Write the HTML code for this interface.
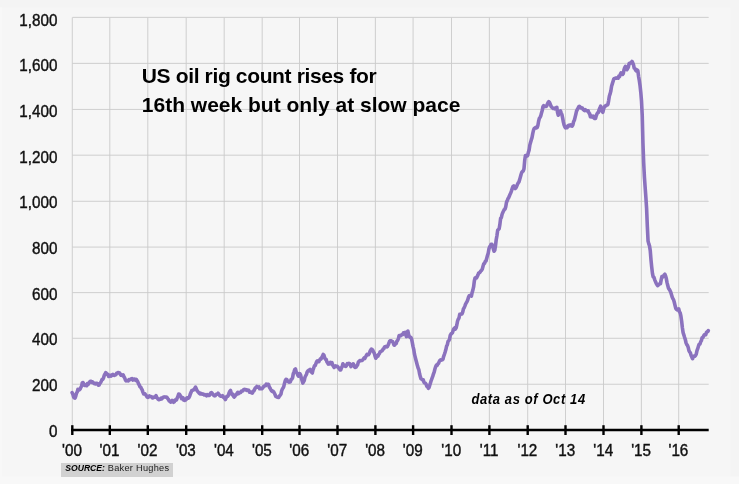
<!DOCTYPE html>
<html lang="en">
<head>
<meta charset="utf-8">
<title>US oil rig count</title>
<style>
html,body{margin:0;padding:0;}
body{width:739px;height:484px;overflow:hidden;background:#f5f5f5;font-family:"Liberation Sans",sans-serif;position:relative;}
svg{position:absolute;left:0;top:0;display:block;}
.grid line{stroke:#cbcbcb;stroke-width:0.9;}
.ticks line{stroke:#000;stroke-width:2.4;}
.ylab text{font-size:15.8px;text-anchor:end;fill:#111;stroke:#111;stroke-width:0.4px;}
.xlab text{font-size:15.8px;text-anchor:middle;fill:#111;stroke:#111;stroke-width:0.4px;}
.title{position:absolute;left:141.8px;top:60.5px;font-weight:bold;font-size:21px;line-height:29px;letter-spacing:0px;word-spacing:0px;color:#000;white-space:nowrap;transform-origin:0 0;}
.note{position:absolute;left:471.5px;top:391.7px;font-weight:bold;font-style:italic;font-size:13px;line-height:16px;letter-spacing:0.6px;color:#000;white-space:nowrap;transform:scaleY(1.12);transform-origin:0 12.3px;}
.src{position:absolute;left:61.2px;top:463.2px;width:111.8px;height:13.5px;background:#d1d1d1;font-size:9.2px;line-height:11px;letter-spacing:0.28px;color:#1c1c1c;white-space:nowrap;}
.src span{display:block;padding-left:4.1px;padding-top:0px;}
.src b{font-style:italic;color:#000;font-size:8.6px;letter-spacing:0;}
</style>
</head>
<body>
<svg width="739" height="484" viewBox="0 0 739 484" font-family="Liberation Sans, sans-serif">
<rect x="0" y="0" width="739" height="484" fill="#f4f4f4"/>
<rect x="0" y="7.4" width="730.5" height="476.6" fill="#f6f6f6"/>
<rect x="0" y="476.5" width="739" height="7.5" fill="#f8f8f8"/>
<rect x="0" y="7.4" width="2" height="476.6" fill="#f8f8f8"/>
<g class="grid">
<line x1="72.3" y1="17.5" x2="72.3" y2="430.3"/>
<line x1="109.8" y1="17.5" x2="109.8" y2="430.3"/>
<line x1="147.8" y1="17.5" x2="147.8" y2="430.3"/>
<line x1="186.2" y1="17.5" x2="186.2" y2="430.3"/>
<line x1="224.2" y1="17.5" x2="224.2" y2="430.3"/>
<line x1="262.2" y1="17.5" x2="262.2" y2="430.3"/>
<line x1="299.5" y1="17.5" x2="299.5" y2="430.3"/>
<line x1="337.5" y1="17.5" x2="337.5" y2="430.3"/>
<line x1="375.4" y1="17.5" x2="375.4" y2="430.3"/>
<line x1="413.1" y1="17.5" x2="413.1" y2="430.3"/>
<line x1="451.5" y1="17.5" x2="451.5" y2="430.3"/>
<line x1="489.4" y1="17.5" x2="489.4" y2="430.3"/>
<line x1="527.7" y1="17.5" x2="527.7" y2="430.3"/>
<line x1="565.5" y1="17.5" x2="565.5" y2="430.3"/>
<line x1="603.5" y1="17.5" x2="603.5" y2="430.3"/>
<line x1="641.4" y1="17.5" x2="641.4" y2="430.3"/>
<line x1="678.7" y1="17.5" x2="678.7" y2="430.3"/>
<line x1="72.4" y1="384.25" x2="708.7" y2="384.25"/>
<line x1="72.4" y1="338.30" x2="708.7" y2="338.30"/>
<line x1="72.4" y1="292.60" x2="708.7" y2="292.60"/>
<line x1="72.4" y1="247.10" x2="708.7" y2="247.10"/>
<line x1="72.4" y1="201.30" x2="708.7" y2="201.30"/>
<line x1="72.4" y1="155.20" x2="708.7" y2="155.20"/>
<line x1="72.4" y1="109.45" x2="708.7" y2="109.45"/>
<line x1="72.4" y1="63.40" x2="708.7" y2="63.40"/>
<line x1="72.4" y1="17.40" x2="708.7" y2="17.40"/>
</g>
<path d="M72.10 392.69 L72.83 394.04 L73.56 396.86 L74.29 397.85 L75.02 398.16 L75.75 396.05 L76.48 393.28 L77.21 391.97 L77.94 389.31 L78.67 390.17 L79.40 389.88 L80.13 389.10 L80.86 387.35 L81.59 386.15 L82.32 382.66 L83.05 382.54 L83.78 383.80 L84.51 385.35 L85.24 385.43 L85.97 384.99 L86.70 385.68 L87.43 383.63 L88.16 384.37 L88.89 383.17 L89.62 382.09 L90.35 381.32 L91.08 381.20 L91.81 382.42 L92.54 381.89 L93.27 382.77 L94.00 383.50 L94.73 383.40 L95.46 383.96 L96.19 383.29 L96.92 383.18 L97.65 383.66 L98.38 385.16 L99.11 384.98 L99.84 383.40 L100.57 382.61 L101.30 381.24 L102.03 379.57 L102.76 379.24 L103.49 378.01 L104.22 375.47 L104.95 374.22 L105.68 372.67 L106.41 373.35 L107.14 374.38 L107.87 374.37 L108.60 376.50 L109.33 375.30 L110.06 375.33 L110.79 376.13 L111.52 375.09 L112.25 375.40 L112.98 374.51 L113.71 375.24 L114.44 375.37 L115.17 374.69 L115.90 374.77 L116.63 373.21 L117.36 373.08 L118.09 372.49 L118.82 372.65 L119.55 372.87 L120.28 374.13 L121.01 375.23 L121.74 374.93 L122.47 375.52 L123.20 374.88 L123.93 376.72 L124.66 377.96 L125.39 379.85 L126.12 380.85 L126.85 380.60 L127.58 380.43 L128.31 380.86 L129.04 379.53 L129.77 379.90 L130.50 379.35 L131.23 378.95 L131.96 378.60 L132.69 380.03 L133.42 379.16 L134.15 379.01 L134.88 379.23 L135.61 380.39 L136.34 379.38 L137.07 380.59 L137.80 381.88 L138.53 383.74 L139.26 384.94 L139.99 386.71 L140.72 387.16 L141.45 388.60 L142.18 389.85 L142.91 392.10 L143.64 393.92 L144.37 393.52 L145.10 394.03 L145.83 395.02 L146.56 396.10 L147.29 397.13 L148.02 397.52 L148.75 396.88 L149.48 395.94 L150.21 396.41 L150.94 396.46 L151.67 396.87 L152.40 397.89 L153.13 397.69 L153.86 397.14 L154.59 397.07 L155.32 397.11 L156.05 395.69 L156.78 397.53 L157.51 398.37 L158.24 399.25 L158.97 399.76 L159.70 399.33 L160.43 399.14 L161.16 398.11 L161.89 398.78 L162.62 397.67 L163.35 397.10 L164.08 397.08 L164.81 396.87 L165.54 397.09 L166.27 396.98 L167.00 397.53 L167.73 398.61 L168.46 399.48 L169.19 400.96 L169.92 401.34 L170.65 402.20 L171.38 401.30 L172.11 400.39 L172.84 401.15 L173.57 402.25 L174.30 401.79 L175.03 400.03 L175.76 400.21 L176.49 399.93 L177.22 397.91 L177.95 396.34 L178.68 394.04 L179.41 394.18 L180.14 395.47 L180.87 396.39 L181.60 398.62 L182.33 398.13 L183.06 397.85 L183.79 400.12 L184.52 400.42 L185.25 399.94 L185.98 399.93 L186.71 398.04 L187.44 397.83 L188.17 398.27 L188.90 397.69 L189.63 396.28 L190.36 393.89 L191.09 392.35 L191.82 390.50 L192.55 390.48 L193.28 389.82 L194.01 389.75 L194.74 388.35 L195.47 387.13 L196.20 388.63 L196.93 390.40 L197.66 391.39 L198.39 392.21 L199.12 393.10 L199.85 393.79 L200.58 393.16 L201.31 393.89 L202.04 394.18 L202.77 393.91 L203.50 394.13 L204.23 394.81 L204.96 394.50 L205.69 395.12 L206.42 395.76 L207.15 394.63 L207.88 395.22 L208.61 395.52 L209.34 395.49 L210.07 394.02 L210.80 392.92 L211.53 392.59 L212.26 393.50 L212.99 394.57 L213.72 395.26 L214.45 395.83 L215.18 395.68 L215.91 394.52 L216.64 394.13 L217.37 394.23 L218.10 393.15 L218.83 394.21 L219.56 395.47 L220.29 395.96 L221.02 396.32 L221.75 396.13 L222.48 395.64 L223.21 397.09 L223.94 396.96 L224.67 398.25 L225.40 399.49 L226.13 397.72 L226.86 396.31 L227.59 396.39 L228.32 395.37 L229.05 393.09 L229.78 391.43 L230.51 390.49 L231.24 393.06 L231.97 394.52 L232.70 394.17 L233.43 396.11 L234.16 397.02 L234.89 396.25 L235.62 394.99 L236.35 394.67 L237.08 393.35 L237.81 392.28 L238.54 393.59 L239.27 393.09 L240.00 392.24 L240.73 392.47 L241.46 391.08 L242.19 391.13 L242.92 390.84 L243.65 389.70 L244.38 389.39 L245.11 389.44 L245.84 389.45 L246.57 390.36 L247.30 390.12 L248.03 390.53 L248.76 390.30 L249.49 392.19 L250.22 391.95 L250.95 392.28 L251.68 392.92 L252.41 393.11 L253.14 391.27 L253.87 390.97 L254.60 389.27 L255.33 387.96 L256.06 387.44 L256.79 386.53 L257.52 387.26 L258.25 387.16 L258.98 386.87 L259.71 388.74 L260.44 388.30 L261.17 388.73 L261.90 388.79 L262.63 388.05 L263.36 386.81 L264.09 386.31 L264.82 385.80 L265.55 385.72 L266.28 384.05 L267.01 384.64 L267.74 384.25 L268.47 384.33 L269.20 386.74 L269.93 387.95 L270.66 389.36 L271.39 390.54 L272.12 391.49 L272.85 391.05 L273.58 391.74 L274.31 393.05 L275.04 394.50 L275.77 396.42 L276.50 396.69 L277.23 397.15 L277.96 397.48 L278.69 397.39 L279.42 396.08 L280.15 395.25 L280.88 394.28 L281.61 390.93 L282.34 389.04 L283.07 388.02 L283.80 386.40 L284.53 383.14 L285.26 380.69 L285.99 379.38 L286.72 379.47 L287.45 380.75 L288.18 381.60 L288.91 382.23 L289.64 382.09 L290.37 381.77 L291.10 379.40 L291.83 379.11 L292.56 377.86 L293.29 373.68 L294.02 371.82 L294.75 369.48 L295.48 368.97 L296.21 371.93 L296.94 373.03 L297.67 374.77 L298.40 376.09 L299.13 375.68 L299.86 373.65 L300.59 374.91 L301.32 378.00 L302.05 380.60 L302.78 383.04 L303.51 381.78 L304.24 380.57 L304.97 377.22 L305.70 375.76 L306.43 374.41 L307.16 372.07 L307.89 370.97 L308.62 370.39 L309.35 369.95 L310.08 369.34 L310.81 371.39 L311.54 372.07 L312.27 373.00 L313.00 369.86 L313.73 367.97 L314.46 365.79 L315.19 365.70 L315.92 363.67 L316.65 361.63 L317.38 360.82 L318.11 361.70 L318.84 361.63 L319.57 360.07 L320.30 358.87 L321.03 359.12 L321.76 357.50 L322.49 356.27 L323.22 354.39 L323.95 355.19 L324.68 357.80 L325.41 359.18 L326.14 359.30 L326.87 361.82 L327.60 362.75 L328.33 364.05 L329.06 363.08 L329.79 363.95 L330.52 362.39 L331.25 363.39 L331.98 362.76 L332.71 365.03 L333.44 366.28 L334.17 367.41 L334.90 366.48 L335.63 365.82 L336.36 366.52 L337.09 366.24 L337.82 366.85 L338.55 367.86 L339.28 368.67 L340.01 369.99 L340.74 369.87 L341.47 367.73 L342.20 366.56 L342.93 363.84 L343.66 364.99 L344.39 365.28 L345.12 366.31 L345.85 366.38 L346.58 365.37 L347.31 363.70 L348.04 363.93 L348.77 363.41 L349.50 363.47 L350.23 364.59 L350.96 366.58 L351.69 364.72 L352.42 364.94 L353.15 363.85 L353.88 364.98 L354.61 366.92 L355.34 367.42 L356.07 367.13 L356.80 365.89 L357.53 365.11 L358.26 362.39 L358.99 361.39 L359.72 360.62 L360.45 360.81 L361.18 360.56 L361.91 360.51 L362.64 360.01 L363.37 358.99 L364.10 357.85 L364.83 358.38 L365.56 357.01 L366.29 355.65 L367.02 354.29 L367.75 354.89 L368.48 354.68 L369.21 353.59 L369.94 351.66 L370.67 350.16 L371.40 349.07 L372.13 349.49 L372.86 350.33 L373.59 352.14 L374.32 353.29 L375.05 356.18 L375.78 358.27 L376.51 357.27 L377.24 355.60 L377.97 356.14 L378.70 354.50 L379.43 353.49 L380.16 351.82 L380.89 351.45 L381.62 351.04 L382.35 350.47 L383.08 349.08 L383.81 348.70 L384.54 346.92 L385.27 346.61 L386.00 346.36 L386.73 347.00 L387.46 346.51 L388.19 345.03 L388.92 343.25 L389.65 341.03 L390.38 340.71 L391.11 340.84 L391.84 341.35 L392.57 341.45 L393.30 343.15 L394.03 345.12 L394.76 345.14 L395.49 343.43 L396.22 343.55 L396.95 341.05 L397.68 340.35 L398.41 338.66 L399.14 335.52 L399.87 335.45 L400.60 335.72 L401.33 335.02 L402.06 334.72 L402.79 334.55 L403.52 332.75 L404.25 332.69 L404.98 332.46 L405.71 334.45 L406.44 336.59 L407.17 332.16 L407.90 331.02 L408.63 334.58 L409.36 336.42 L410.09 337.42 L410.82 337.41 L411.55 338.82 L412.28 342.36 L413.01 346.42 L413.74 349.35 L414.47 354.17 L415.20 357.17 L415.93 360.00 L416.66 362.74 L417.39 365.58 L418.12 368.10 L418.85 369.70 L419.58 373.74 L420.31 376.68 L421.04 378.80 L421.77 379.25 L422.50 379.87 L423.23 379.80 L423.96 382.27 L424.69 383.09 L425.42 383.30 L426.15 384.33 L426.88 386.37 L427.61 386.58 L428.34 388.26 L429.07 387.45 L429.80 385.02 L430.53 382.67 L431.26 380.27 L431.99 378.35 L432.72 376.38 L433.45 373.96 L434.18 372.14 L434.91 369.03 L435.64 366.80 L436.37 365.14 L437.10 365.32 L437.83 363.87 L438.56 363.29 L439.29 361.36 L440.02 360.23 L440.75 359.79 L441.48 360.10 L442.21 359.88 L442.94 359.25 L443.67 356.30 L444.40 354.30 L445.13 352.09 L445.86 349.60 L446.59 346.13 L447.32 344.90 L448.05 341.41 L448.78 340.77 L449.51 339.27 L450.24 335.39 L450.97 334.05 L451.70 333.50 L452.43 332.79 L453.16 330.47 L453.89 328.70 L454.62 327.97 L455.35 329.20 L456.08 327.94 L456.81 325.01 L457.54 321.10 L458.27 319.21 L459.00 318.03 L459.73 314.29 L460.46 314.57 L461.19 313.78 L461.92 314.01 L462.65 312.37 L463.38 309.06 L464.11 307.89 L464.84 306.10 L465.57 304.09 L466.30 302.74 L467.03 301.61 L467.76 299.74 L468.49 297.36 L469.22 295.75 L469.95 295.60 L470.68 295.25 L471.41 296.08 L472.14 292.48 L472.87 290.16 L473.60 286.96 L474.33 281.02 L475.06 278.03 L475.79 277.77 L476.52 277.90 L477.25 276.36 L477.98 274.89 L478.71 272.93 L479.44 272.71 L480.17 271.95 L480.90 270.86 L481.63 270.29 L482.36 268.84 L483.09 265.97 L483.82 263.62 L484.55 263.38 L485.28 261.33 L486.01 261.09 L486.74 258.13 L487.47 255.60 L488.20 253.21 L488.93 248.93 L489.66 246.75 L490.39 245.98 L491.12 244.26 L491.85 244.23 L492.58 246.05 L493.31 248.73 L494.04 251.22 L494.77 250.17 L495.50 245.70 L496.23 239.57 L496.96 235.48 L497.69 230.25 L498.42 229.46 L499.15 228.74 L499.88 224.36 L500.61 218.43 L501.34 217.74 L502.07 214.33 L502.80 212.47 L503.53 211.00 L504.26 209.52 L504.99 209.15 L505.72 206.92 L506.45 202.49 L507.18 200.84 L507.91 198.80 L508.64 197.71 L509.37 196.08 L510.10 194.20 L510.83 192.76 L511.56 190.60 L512.29 188.26 L513.02 186.51 L513.75 186.01 L514.48 187.49 L515.21 188.49 L515.94 187.82 L516.67 186.20 L517.40 184.59 L518.13 182.97 L518.86 182.15 L519.59 179.89 L520.32 177.20 L521.05 174.48 L521.78 172.34 L522.51 171.45 L523.24 170.93 L523.97 168.85 L524.70 160.62 L525.43 155.46 L526.16 155.67 L526.89 155.95 L527.62 155.71 L528.35 152.42 L529.08 150.14 L529.81 145.15 L530.54 142.48 L531.27 139.91 L532.00 137.63 L532.73 133.61 L533.46 130.38 L534.19 128.45 L534.92 127.96 L535.65 127.45 L536.38 127.98 L537.11 127.56 L537.84 125.57 L538.57 121.52 L539.30 118.51 L540.03 117.33 L540.76 115.92 L541.49 113.01 L542.22 110.60 L542.95 106.54 L543.68 105.63 L544.41 106.58 L545.14 106.55 L545.87 106.38 L546.60 106.23 L547.33 104.13 L548.06 102.53 L548.79 101.58 L549.52 102.41 L550.25 104.18 L550.98 106.18 L551.71 107.17 L552.44 107.71 L553.17 108.42 L553.90 108.32 L554.63 108.78 L555.36 107.95 L556.09 107.77 L556.82 107.29 L557.55 112.53 L558.28 115.18 L559.01 113.22 L559.74 111.30 L560.47 110.91 L561.20 112.84 L561.93 114.59 L562.66 118.12 L563.39 122.16 L564.12 125.16 L564.85 126.89 L565.58 127.90 L566.31 127.83 L567.04 127.75 L567.77 125.95 L568.50 125.41 L569.23 125.14 L569.96 125.76 L570.69 124.91 L571.42 125.75 L572.15 126.18 L572.88 124.90 L573.61 121.64 L574.34 120.23 L575.07 117.41 L575.80 114.36 L576.53 111.16 L577.26 109.66 L577.99 108.25 L578.72 106.79 L579.45 106.29 L580.18 107.01 L580.91 107.94 L581.64 107.86 L582.37 107.99 L583.10 109.36 L583.83 110.01 L584.56 110.58 L585.29 109.62 L586.02 110.47 L586.75 110.68 L587.48 111.02 L588.21 110.89 L588.94 112.98 L589.67 113.79 L590.40 116.79 L591.13 116.90 L591.86 116.19 L592.59 116.98 L593.32 116.16 L594.05 118.23 L594.78 118.57 L595.51 118.42 L596.24 115.86 L596.97 113.92 L597.70 112.74 L598.43 112.32 L599.16 109.51 L599.89 108.05 L600.62 106.22 L601.35 109.92 L602.08 111.30 L602.81 112.33 L603.54 109.25 L604.27 107.12 L605.00 106.09 L605.73 105.97 L606.46 105.17 L607.19 105.02 L607.92 104.40 L608.65 100.56 L609.38 96.02 L610.11 93.93 L610.84 90.95 L611.57 86.26 L612.30 83.88 L613.03 81.41 L613.76 79.11 L614.49 78.42 L615.22 78.24 L615.95 77.93 L616.68 78.13 L617.41 77.56 L618.14 78.20 L618.87 76.07 L619.60 76.56 L620.33 74.26 L621.06 72.83 L621.79 73.50 L622.52 74.47 L623.25 73.65 L623.98 69.85 L624.71 67.68 L625.44 66.40 L626.17 69.17 L626.90 69.60 L627.63 68.56 L628.36 67.09 L629.09 63.67 L629.82 62.98 L630.55 63.10 L631.28 62.55 L632.01 61.42 L632.74 62.84 L633.47 64.72 L634.20 68.12 L634.93 68.51 L635.66 70.16 L636.39 70.88 L637.12 69.92 L637.85 70.78 L638.58 76.35 L639.31 80.43 L640.04 85.55 L640.77 92.21 L641.50 100.90 L642.23 115.38 L642.96 143.30 L643.69 162.97 L644.42 177.09 L645.15 187.28 L645.88 197.39 L646.61 208.68 L647.34 226.44 L648.07 241.12 L648.80 243.90 L649.53 245.97 L650.26 250.64 L650.99 259.91 L651.72 267.17 L652.45 273.39 L653.18 276.91 L653.91 277.19 L654.64 279.58 L655.37 281.33 L656.10 283.07 L656.83 284.53 L657.56 285.59 L658.29 285.18 L659.02 284.31 L659.75 283.75 L660.48 283.62 L661.21 279.59 L661.94 276.49 L662.67 277.07 L663.40 276.05 L664.13 274.96 L664.86 274.20 L665.59 276.02 L666.32 278.57 L667.05 282.65 L667.78 285.56 L668.51 288.35 L669.24 289.23 L669.97 290.50 L670.70 292.01 L671.43 294.51 L672.16 297.10 L672.89 298.64 L673.62 299.85 L674.35 302.52 L675.08 305.58 L675.81 308.47 L676.54 309.46 L677.27 309.84 L678.00 309.59 L678.73 308.84 L679.46 311.80 L680.19 312.94 L680.92 316.20 L681.65 321.32 L682.38 327.77 L683.11 332.64 L683.84 334.90 L684.57 337.33 L685.30 339.51 L686.03 342.76 L686.76 344.45 L687.49 345.56 L688.22 347.32 L688.95 350.57 L689.68 351.98 L690.41 352.95 L691.14 355.48 L691.87 357.15 L692.60 358.67 L693.33 356.44 L694.06 355.99 L694.79 356.28 L695.52 355.50 L696.25 354.17 L696.98 350.63 L697.71 348.65 L698.44 346.21 L699.17 344.21 L699.90 344.06 L700.63 341.97 L701.36 340.70 L702.09 337.74 L702.82 337.53 L703.55 336.16 L704.28 334.71 L705.01 334.84 L705.74 334.78 L706.47 332.35 L707.20 331.93 L707.93 331.33 L708.30 330.60" fill="none" stroke="#8b72be" stroke-width="3.6" stroke-linejoin="round" stroke-linecap="round"/>
<line x1="71.0" y1="430" x2="708.7" y2="430" stroke="#000" stroke-width="2.6"/>
<g class="ticks">
<line x1="72.3" y1="425.2" x2="72.3" y2="435"/>
<line x1="109.8" y1="425.2" x2="109.8" y2="435"/>
<line x1="147.8" y1="425.2" x2="147.8" y2="435"/>
<line x1="186.2" y1="425.2" x2="186.2" y2="435"/>
<line x1="224.2" y1="425.2" x2="224.2" y2="435"/>
<line x1="262.2" y1="425.2" x2="262.2" y2="435"/>
<line x1="299.5" y1="425.2" x2="299.5" y2="435"/>
<line x1="337.5" y1="425.2" x2="337.5" y2="435"/>
<line x1="375.4" y1="425.2" x2="375.4" y2="435"/>
<line x1="413.1" y1="425.2" x2="413.1" y2="435"/>
<line x1="451.5" y1="425.2" x2="451.5" y2="435"/>
<line x1="489.4" y1="425.2" x2="489.4" y2="435"/>
<line x1="527.7" y1="425.2" x2="527.7" y2="435"/>
<line x1="565.5" y1="425.2" x2="565.5" y2="435"/>
<line x1="603.5" y1="425.2" x2="603.5" y2="435"/>
<line x1="641.4" y1="425.2" x2="641.4" y2="435"/>
<line x1="678.7" y1="425.2" x2="678.7" y2="435"/>
</g>
<g class="ylab">
<text transform="translate(57.4,436.6) scale(0.965,1)">0</text>
<text transform="translate(57.4,390.9) scale(0.965,1)">200</text>
<text transform="translate(57.4,345.2) scale(0.965,1)">400</text>
<text transform="translate(57.4,299.6) scale(0.965,1)">600</text>
<text transform="translate(57.4,253.9) scale(0.965,1)">800</text>
<text transform="translate(57.4,208.2) scale(0.965,1)">1,000</text>
<text transform="translate(57.4,162.5) scale(0.965,1)">1,200</text>
<text transform="translate(57.4,116.8) scale(0.965,1)">1,400</text>
<text transform="translate(57.4,71.2) scale(0.965,1)">1,600</text>
<text transform="translate(57.4,25.5) scale(0.965,1)">1,800</text>
</g>
<g class="xlab">
<text transform="translate(72.0,456) scale(0.965,1)">'00</text>
<text transform="translate(109.5,456) scale(0.965,1)">'01</text>
<text transform="translate(147.5,456) scale(0.965,1)">'02</text>
<text transform="translate(185.9,456) scale(0.965,1)">'03</text>
<text transform="translate(223.9,456) scale(0.965,1)">'04</text>
<text transform="translate(261.9,456) scale(0.965,1)">'05</text>
<text transform="translate(299.2,456) scale(0.965,1)">'06</text>
<text transform="translate(337.2,456) scale(0.965,1)">'07</text>
<text transform="translate(375.1,456) scale(0.965,1)">'08</text>
<text transform="translate(412.8,456) scale(0.965,1)">'09</text>
<text transform="translate(451.2,456) scale(0.965,1)">'10</text>
<text transform="translate(489.1,456) scale(0.965,1)">'11</text>
<text transform="translate(527.4,456) scale(0.965,1)">'12</text>
<text transform="translate(565.2,456) scale(0.965,1)">'13</text>
<text transform="translate(603.2,456) scale(0.965,1)">'14</text>
<text transform="translate(641.1,456) scale(0.965,1)">'15</text>
<text transform="translate(678.4,456) scale(0.965,1)">'16</text>
</g>
</svg>
<div class="title"><span style="letter-spacing:-0.36px">US oil rig count rises for</span><br>16th week but only at slow pace</div>
<div class="note">data as of Oct 14</div>
<div class="src"><span><b>SOURCE:</b> Baker Hughes</span></div>
</body>
</html>
